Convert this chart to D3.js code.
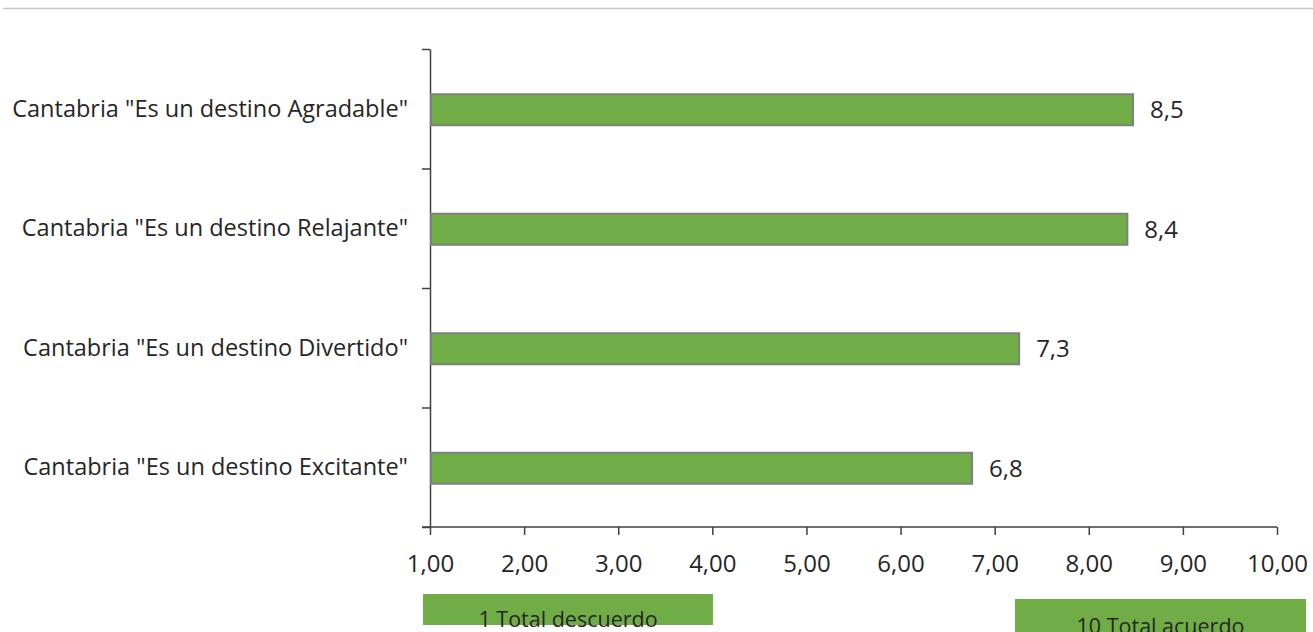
<!DOCTYPE html>
<html lang="es">
<head>
  <meta charset="utf-8">
  <script src="https://d3js.org/d3.v7.min.js"></script>
  <title>Cantabria destino</title>
  <style>
    body { margin: 0; background: #fff; }
    text { font-family: "Open Sans", sans-serif; fill: #262626; }
  </style>
</head>
<body>
<div id="my_dataviz"></div>
<script>
  // data
  const categories = [
    'Cantabria "Es un destino Agradable"',
    'Cantabria "Es un destino Relajante"',
    'Cantabria "Es un destino Divertido"',
    'Cantabria "Es un destino Excitante"'
  ];
  const values = [8.47, 8.41, 7.26, 6.76];
  const xTicks = [1, 2, 3, 4, 5, 6, 7, 8, 9, 10];
  const legendLabels = ["1 Total descuerdo", "10 Total acuerdo"];

  const W = 1313, H = 632;
  const margin = { top: 49, right: 36, bottom: 105, left: 430 };
  const width = W - margin.left - margin.right,
        height = H - margin.top - margin.bottom;

  const comma = d3.formatLocale({ decimal: ",", thousands: ".", grouping: [3], currency: ["", "€"] });
  const fmt2 = comma.format(".2f"), fmt1 = comma.format(".1f");

  const root = d3.select("#my_dataviz").append("svg")
    .attr("width", W).attr("height", H);

  // thin grey rule at the top
  root.append("line")
    .attr("x1", 3).attr("x2", W).attr("y1", 8.5).attr("y2", 8.5)
    .attr("stroke", "#c8c8c8").attr("stroke-width", 1.5);

  const svg = root.append("g")
    .attr("transform", `translate(${margin.left},${margin.top})`);

  const x = d3.scaleLinear().domain([1, 10]).range([0, width]);
  const y = d3.scaleBand().domain(categories).range([0, height]);

  // X axis
  const xAxis = svg.append("g")
    .attr("transform", `translate(0,${height})`)
    .call(d3.axisBottom(x).tickValues(xTicks).tickFormat(fmt2).tickSize(8).tickSizeOuter(0));
  xAxis.select(".domain").attr("stroke", "#404040").attr("stroke-width", 1.5)
    .attr("d", `M-8,0H${width}`);
  xAxis.selectAll(".tick line").attr("stroke", "#404040").attr("stroke-width", 1.5);
  xAxis.selectAll(".tick text").attr("dy", null).attr("y", 45)
    .style("font-size", "24px").style("font-family", "'Open Sans', sans-serif").style("fill", "#262626");

  // Y axis: tick marks at band boundaries
  const yb = d3.scaleLinear().domain([0, categories.length]).range([0, height]);
  const yAxis = svg.append("g")
    .call(d3.axisLeft(yb).ticks(categories.length).tickFormat("").tickSize(8).tickSizeOuter(0));
  yAxis.select(".domain").attr("stroke", "#404040").attr("stroke-width", 1.5);
  yAxis.selectAll(".tick line").attr("stroke", "#404040").attr("stroke-width", 1.5);

  // category labels
  svg.append("g").selectAll("text")
    .data(categories)
    .join("text")
    .attr("x", -22)
    .attr("y", d => y(d) + y.bandwidth() / 2)
    .attr("dy", "0.35em")
    .attr("text-anchor", "end")
    .style("font-size", "23.5px")
    .text(d => d);

  // bars
  const barH = 31;
  svg.selectAll("rect.bar")
    .data(values)
    .join("rect")
    .attr("class", "bar")
    .attr("x", x(1) + 1)
    .attr("y", (d, i) => y(categories[i]) + y.bandwidth() / 2 - barH / 2 + 1)
    .attr("width", d => x(d) - x(1) - 1)
    .attr("height", barH)
    .attr("fill", "#70ad47")
    .attr("stroke", "#7f7f7f")
    .attr("stroke-width", 2);

  // value labels
  svg.selectAll("text.val")
    .data(values)
    .join("text")
    .attr("class", "val")
    .attr("x", d => x(d) + 17)
    .attr("y", (d, i) => y(categories[i]) + y.bandwidth() / 2 + 1)
    .attr("dy", "0.35em")
    .style("font-size", "24px")
    .text(d => fmt1(d));

  // legend boxes below the axis (text is cut by the bottom edge, as in the original)
  const legend = [
    { label: legendLabels[0], x0: 423, x1: 713, y0: 594, y1: 625, ty: 627 },
    { label: legendLabels[1], x0: 1015, x1: 1306, y0: 599, y1: 640, ty: 634 }
  ];
  const lg = root.append("g");
  lg.selectAll("rect")
    .data(legend)
    .join("rect")
    .attr("x", d => d.x0).attr("y", d => d.y0)
    .attr("width", d => d.x1 - d.x0).attr("height", d => d.y1 - d.y0)
    .attr("fill", "#70ad47");
  lg.selectAll("text")
    .data(legend)
    .join("text")
    .attr("x", d => (d.x0 + d.x1) / 2)
    .attr("y", d => d.ty)
    .attr("text-anchor", "middle")
    .style("font-size", "21.5px")
    .text(d => d.label);
</script>
</body>
</html>
